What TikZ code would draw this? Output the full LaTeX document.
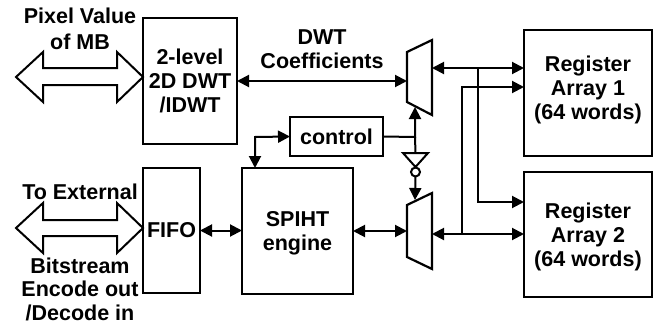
\documentclass[tikz,border=0pt]{standalone}
\usepackage{fontspec}
\setmainfont{Liberation Sans}
\usetikzlibrary{arrows.meta}
\begin{document}
\begin{tikzpicture}[x=1pt,y=-1pt,
  box/.style={draw, line width=2.2pt, inner sep=0pt, outer sep=0pt},
  lbl/.style={font=\fontsize{21.5}{24}\selectfont\bfseries, align=center, inner sep=0pt},
  conn/.style={line width=2pt},
  tip/.tip={Triangle[length=12pt,width=12pt]},
  one/.style={conn,-tip},
  two/.style={conn,tip-tip},
  fat/.style={draw, line width=2pt, fill=white, line join=miter}
]
\useasboundingbox (0,0) rectangle (659,327);

% boxes
\node[box, minimum width=94pt, minimum height=126pt] (dwt) at (190,81) {};
\node[lbl] at (dwt.center) {2-level\\2D DWT\\/IDWT};
\node[box, minimum width=57pt, minimum height=125pt] (fifo) at (171.5,230.5) {};
\node[lbl] at (fifo.center) {FIFO};
\node[box, minimum width=111pt, minimum height=126pt] (spiht) at (297.5,231) {};
\node[lbl] at ([yshift=-2pt]spiht.center) {SPIHT\\engine};
\node[box, minimum width=93pt, minimum height=39pt] (ctrl) at (336.5,136.5) {};
\node[lbl] at (ctrl.center) {control};
\node[box, minimum width=128pt, minimum height=126pt] (reg1) at (588,93) {};
\node[lbl] at ([yshift=3pt]reg1.center) {Register\\Array 1\\(64 words)};
\node[box, minimum width=128pt, minimum height=125pt] (reg2) at (588,234.5) {};
\node[lbl] at ([yshift=-2pt]reg2.center) {Register\\Array 2\\(64 words)};

% muxes
\draw[line width=2.2pt, line join=miter] (407,52) coordinate (m1a) -- (432,40) -- (432,115) -- (407,102) -- cycle;
\draw[line width=2.2pt, line join=miter] (407,205) -- (432,193) -- (432,269) -- (407,257) -- cycle;
\coordinate (m1in) at (407,81);
\coordinate (m1out) at (432,68);
\coordinate (m1sel) at (415,107);
\coordinate (m2in) at (407,231);
\coordinate (m2out) at (432,234);
\coordinate (m2sel) at (415,200);

% inverter
\coordinate (cj) at (415,137);
\draw[line width=2pt, line join=miter] (403,153) coordinate (invtop) -- (428,153) -- (415.5,167) -- cycle;
\draw[line width=2pt] (415.5,172) circle (4.5pt);
\coordinate (invin) at (415.5,153);
\coordinate (invout) at (415.5,176.5);

% big hollow arrows
\draw[fat] (16,77) -- (43,52) -- (43,68) -- (117,68) -- (117,52) -- (143,77) -- (117,102) -- (117,85) -- (43,85) -- (43,102) -- cycle;
\draw[fat] (16,228) -- (43,203) -- (43,220) -- (117,220) -- (117,203) -- (143,228) -- (117,253) -- (117,236) -- (43,236) -- (43,253) -- cycle;

% labels
\node[lbl, font=\fontsize{21.5}{26}\selectfont\bfseries] at (80,29) {Pixel Value\\of MB};
\node[lbl] at (322,49) {DWT\\Coefficients};
\node[lbl] at (80,192) {To External};
\node[lbl, font=\fontsize{21.5}{23.5}\selectfont\bfseries] at (80,289) {Bitstream\\Encode out\\/Decode in};

% connectors
\draw[two] (dwt.east) -- (m1in);
\draw[two] (m1out) -- (m1out -| reg1.west);
\coordinate (v1top) at (462,87);
\coordinate (v1bot) at (462,234);
\draw[one] (v1bot) -- (v1top) -- (v1top -| reg1.west);
\coordinate (v2top) at (478,68);
\coordinate (v2bot) at (478,202);
\draw[one] (v2top) -- (v2bot) -- (v2bot -| reg2.west);
\draw[two] (m2out) -- (m2out -| reg2.west);
\draw[two] (spiht.east) -- (m2in);
\draw[two] (fifo.east) -- (fifo.east -| spiht.west);
\draw[one] (ctrl.east) -- (cj) -- (m1sel);
\draw[conn] (cj) -- (invin);
\draw[one] (invout) -- (m2sel);
\coordinate (cl) at (255,137);
\draw[two] (ctrl.west) -- (cl) -- (cl |- spiht.north);
\end{tikzpicture}
\end{document}
